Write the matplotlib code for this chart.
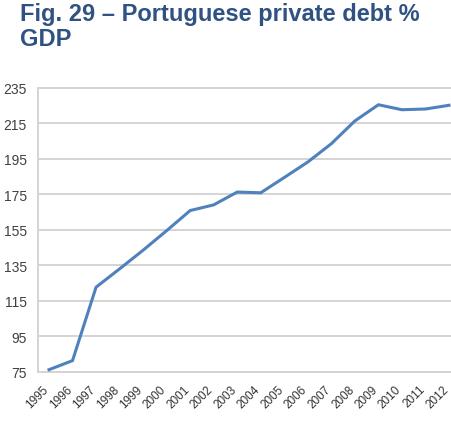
import matplotlib
matplotlib.use("Agg")
from matplotlib import pyplot as plt
from matplotlib import transforms

years = [str(y) for y in range(1995, 2013)]
debt = [76.3, 81.4, 122.7, 133.0, 143.5, 154.5, 165.8, 169.0, 176.2, 175.8,
        184.4, 193.1, 203.4, 216.2, 225.3, 222.5, 222.9, 225.0]
yticks = list(range(75, 236, 20))

TITLE_COLOR = "#2f5282"
LINE_COLOR = "#4f81bd"
GRID_COLOR = "#d4d4d4"

plt.rcParams["font.family"] = ["Liberation Sans", "DejaVu Sans"]

fig = plt.figure(figsize=(4.52, 4.27), dpi=100)
ax = fig.add_axes([38 / 452, 1 - 373 / 427, 1 - 38 / 452, (373 - 88.5) / 427])

x = list(range(len(years)))
ax.plot(x, debt, color=LINE_COLOR, lw=2.2, solid_joinstyle="round", zorder=3)

ax.set_xlim(-11 / 23.53, 17 + 3 / 23.53)
ax.set_ylim(75, 235)
ax.set_yticks(yticks)
ax.set_xticks(x)
ax.set_xticklabels([])
ax.tick_params(axis="y", length=0, pad=8, labelsize=10, labelcolor="#404040")
ax.tick_params(axis="x", length=0)

# rotated year labels, nudged a little left so 2012 stays inside
lab_tr = ax.get_xaxis_transform() + transforms.ScaledTranslation(-2.5 / 100, -15 / 100, fig.dpi_scale_trans)
for i, yr in zip(x, years):
    ax.text(i, 0, yr, transform=lab_tr, rotation=45, ha="right", va="center",
            rotation_mode="anchor", fontsize=8.5, color="#333333", clip_on=False)

ax.grid(axis="y", color=GRID_COLOR, lw=1.4)
for gl in ax.get_ygridlines():
    gl.set_clip_on(False)
for side in ["top", "right"]:
    ax.spines[side].set_visible(False)
ax.spines["left"].set_color(GRID_COLOR)
ax.spines["bottom"].set_color(GRID_COLOR)
ax.spines["left"].set_linewidth(1.4)
ax.spines["bottom"].set_linewidth(1.4)

fig.text(20 / 452, 1 - 3 / 427, "Fig. 29 \u2013 Portuguese private debt %\nGDP",
         fontweight="bold", fontsize=17, color=TITLE_COLOR,
         va="top", ha="left", linespacing=1.1)

fig.savefig("out.png", dpi=100)
